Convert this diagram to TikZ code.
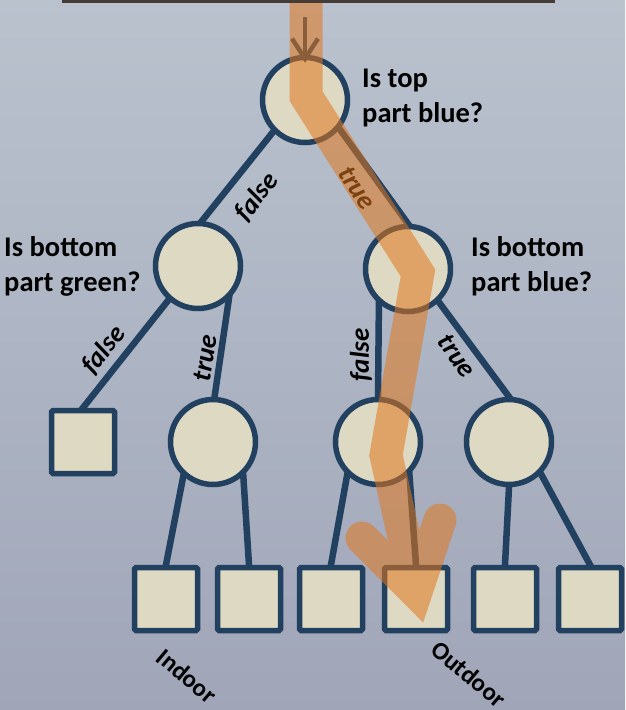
\documentclass[tikz,border=0pt]{standalone}
\usepackage{fontspec}
\setmainfont{Carlito}
\usetikzlibrary{arrows.meta}
\definecolor{bgtop}{RGB}{186,194,206}
\definecolor{bgbot}{RGB}{160,166,184}
\definecolor{edgeblue}{RGB}{34,64,95}
\definecolor{nodefill}{RGB}{222,217,195}
\definecolor{pathorange}{RGB}{225,120,30}
\definecolor{stripdark}{RGB}{70,60,55}
\pgfdeclarelayer{bg}
\pgfdeclarelayer{edges}
\pgfsetlayers{bg,edges,main}
\begin{document}
\begin{tikzpicture}[x=1pt,y=-1pt,
  decision/.style={circle, draw=edgeblue, fill=nodefill, line width=5.5pt, minimum size=85pt, inner sep=0pt},
  leaf/.style={rectangle, draw=edgeblue, fill=nodefill, line width=5.5pt, minimum size=63pt, inner sep=0pt, rounded corners=1.5pt},
  branch/.style={draw=edgeblue, line width=6.5pt, shorten <=-5pt, shorten >=-5pt},
  question/.style={font=\bfseries\fontsize{28.5}{35}\selectfont, align=left, anchor=west, inner sep=0pt},
  edgelabel/.style={font=\bfseries\itshape\fontsize{27}{30}\selectfont, inner sep=0pt},
  outcome/.style={font=\bfseries\fontsize{25}{28}\selectfont, inner sep=0pt, rotate=-40},
  highlight/.style={draw=pathorange, line width=33pt, line join=miter}]
\useasboundingbox (0,0) rectangle (625,710);
\begin{pgfonlayer}{bg}
\fill[top color=bgtop, bottom color=bgbot] (0,0) rectangle (625,710);
\end{pgfonlayer}

% nodes
\node[decision] (root) at (305,100) {};
\node[decision] (l2a) at (198,266) {};
\node[decision] (l2b) at (408,269) {};
\node[leaf] (leafA) at (83,442) {};
\node[decision] (l3a) at (213,442) {};
\node[decision] (l3b) at (378,442) {};
\node[decision] (l3c) at (509,442) {};
\node[leaf] (s1) at (166,599) {};
\node[leaf] (s2) at (249,599) {};
\node[leaf] (s3) at (331,599) {};
\node[leaf] (s4) at (416,599) {};
\node[leaf] (s5) at (505,599) {};
\node[leaf] (s6) at (590,599) {};

% edges
\begin{pgfonlayer}{edges}
\draw[branch] (root.-135) -- (l2a.85);
\draw[branch] (root.-40) -- (l2b.north);
\draw[branch] (l2a.-131) -- (leafA.north);
\draw[branch] (l2a.-47) -- (l3a.88);
\draw[branch] (l2b.-130) -- (l3b.north);
\draw[branch] (l2b.-47) -- (l3c.north);
\draw[branch] (l3a.-131) -- (s1.north);
\draw[branch] (l3a.-48) -- (s2.north);
\draw[branch] (l3b.-133) -- (s3.north);
\draw[branch] (l3b.-46) -- (s4.north);
\draw[branch] (l3c.south) -- (s5.north);
\draw[branch] (l3c.-45) -- (s6.north);
\end{pgfonlayer}

% entry arrow
\coordinate (entry) at (305,17);
\draw[draw=edgeblue, line width=4.5pt, shorten >=-8pt, -{Straight Barb[length=20pt,width=26pt]}] (entry) -- (root.north);

% questions
\node[question] (q1) at (362,98) {Is top\\part blue?};
\node[question] (q2) at (4,266) {Is bottom\\part green?};
\node[question] (q3) at (471,266) {Is bottom\\part blue?};

% edge labels
\node[edgelabel, rotate=52] (f1) at (257,197) {false};
\node[edgelabel, rotate=-57] (t1) at (357,188) {true};
\node[edgelabel, rotate=51] (f2) at (104,350) {false};
\node[edgelabel, rotate=81] (t2) at (205,358) {true};
\node[edgelabel, rotate=90] (f3) at (361,355) {false};
\node[edgelabel, rotate=-55] (t3) at (457,356) {true};

% outcomes
\node[outcome] (o1) at (187,676) {Indoor};
\node[outcome] (o2) at (469,674) {Outdoor};

% highlighted path
\begin{scope}[transparency group, opacity=0.55]
\draw[highlight] (306,0) -- (306,96) -- (418,273) -- (386,455) -- (416,592);
\draw[highlight, line cap=round] (362,538) -- (416,592) -- (440,520);
\end{scope}

\fill[stripdark] (62,0) rectangle (555,2.5);
\end{tikzpicture}
\end{document}
